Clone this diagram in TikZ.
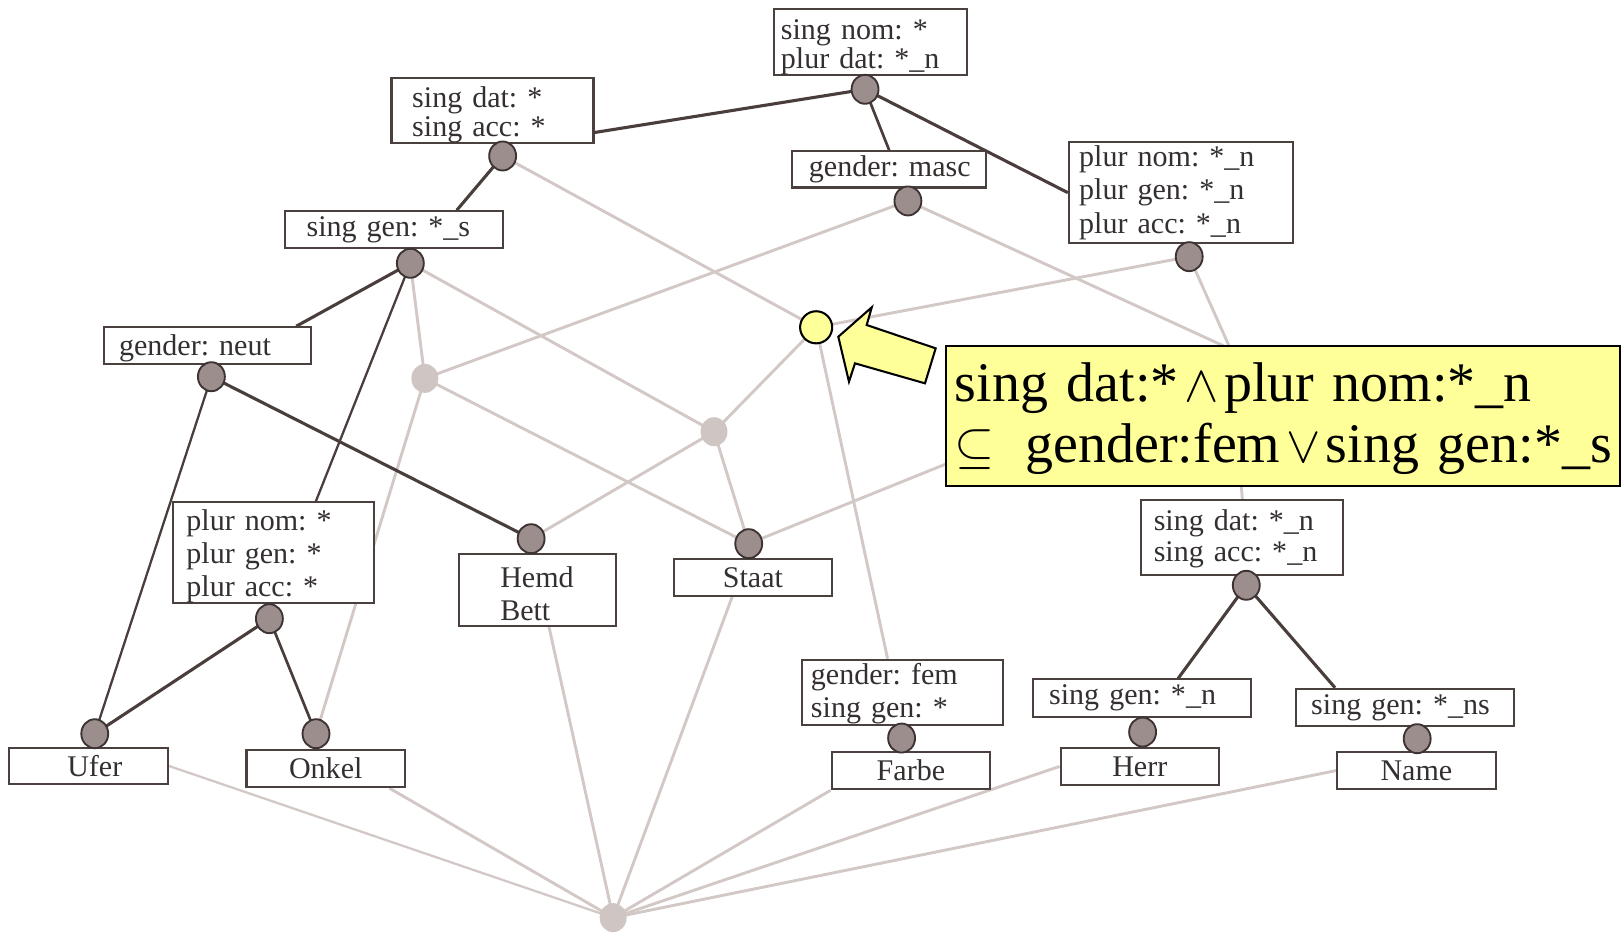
\documentclass[tikz,border=0pt]{standalone}
\usepackage{fontspec}
\setmainfont{Liberation Serif}
\usetikzlibrary{calc,backgrounds,shapes.geometric}

\definecolor{edgedark}{HTML}{4A3E3C}
\definecolor{edgelight}{HTML}{D2C8C6}
\definecolor{boxline}{HTML}{4A403E}
\definecolor{txt}{HTML}{353030}
\definecolor{portfill}{HTML}{9B8E8C}
\definecolor{portline}{HTML}{3D3333}
\definecolor{meetfill}{HTML}{CFC5C3}
\definecolor{hl}{HTML}{FFFF99}

% invisible strut that raises the first line of a box
\newcommand{\topstrut}[1]{\rule{0pt}{#1}}

\begin{document}
\frenchspacing
\begin{tikzpicture}[x=0.5pt,y=-0.5pt,
  box/.style={draw=boxline, line width=1pt, fill=white, text=txt,
    font=\fontsize{14.5}{15}\selectfont, inner ysep=0pt},
  lbox/.style={box, align=left},
  cbox/.style={box, align=center, minimum width=76.5pt, minimum height=17.5pt, inner xsep=0pt},
  port/.style={ellipse, draw=portline, line width=0.9pt, fill=portfill,
    minimum width=13pt, minimum height=14pt, inner sep=0pt},
  meet/.style={ellipse, fill=meetfill, minimum width=13pt, minimum height=14pt, inner sep=0pt},
  strong/.style={draw=edgedark, line width=1.5pt},
  thinstrong/.style={draw=edgedark, line width=1.1pt},
  weak/.style={draw=edgelight, line width=1.4pt},
]
\useasboundingbox (0,0) rectangle (1568,902);

% ---------- attribute boxes ----------
\node[lbox, text width=86.5pt, inner xsep=3.5pt, minimum height=31.5pt,
      font=\fontsize{14.5}{14}\selectfont] (b1) at (840.5,40.5) {\topstrut{14.5pt}sing nom: *\\plur dat: *\_n};
\node[lbox, text width=77.5pt, inner xsep=10pt, minimum height=31.5pt,
      font=\fontsize{14.5}{14}\selectfont] (b2) at (475.5,106.5) {\topstrut{14.5pt}sing dat: *\\sing acc: *};
\node[lbox, text width=77.5pt, inner xsep=8pt, minimum height=17.5pt] (bmasc) at (858.5,163.5) {\mbox{gender: masc}};
\node[lbox, text width=98pt, inner xsep=5pt, minimum height=49pt,
      font=\fontsize{14.5}{16}\selectfont] (b4) at (1140,186) {plur nom: *\_n\\plur gen: *\_n\\plur acc: *\_n};
\node[lbox, text width=84.5pt, inner xsep=10.5pt, minimum height=17.5pt] (bsgs) at (380.5,221.5) {\mbox{sing gen: *\_s}};
\node[lbox, text width=85pt, inner xsep=7.5pt, minimum height=17.5pt] (bneut) at (200,333.5) {\mbox{\topstrut{13pt}gender: neut}};
\node[lbox, text width=84pt, inner xsep=6.5pt, minimum height=48.5pt,
      font=\fontsize{14.5}{16}\selectfont] (b7) at (264,533.5) {\topstrut{13.5pt}plur nom: *\\plur gen: *\\plur acc: *};
\node[lbox, text width=36pt, inner xsep=20pt, minimum height=34.5pt,
      font=\fontsize{14.5}{16}\selectfont] (bhemd) at (519,569.5) {\topstrut{13.5pt}Hemd\\Bett};
\node[cbox, minimum width=76pt] (bstaat) at (727,557.5) {Staat};
\node[lbox, text width=88pt, inner xsep=4.5pt, minimum height=31.5pt,
      font=\fontsize{14.5}{16}\selectfont] (bfem) at (871,668.5) {\topstrut{11.5pt}gender: fem\\sing gen: *};
\node[lbox, text width=85.5pt, inner xsep=6pt, minimum height=36pt,
      font=\fontsize{14.5}{15}\selectfont] (b11) at (1199.5,519) {\topstrut{11.5pt}sing dat: *\_n\\sing acc: *\_n};
\node[lbox, text width=89.5pt, inner xsep=8pt, minimum height=18pt] (bsgn) at (1102.5,674) {\mbox{sing gen: *\_n}};
\node[lbox, text width=90.5pt, inner xsep=7.5pt, minimum height=18pt] (bsgns) at (1356.5,683) {\mbox{sing gen: *\_ns}};

% ---------- word boxes ----------
\node[cbox] (bufer) at (85.5,739.5) {\hspace{6pt}Ufer};
\node[cbox, minimum height=18pt] (bonkel) at (314.5,742) {Onkel};
\node[cbox, minimum height=18pt] (bfarbe) at (879.5,744) {Farbe};
\node[cbox, minimum height=18pt] (bherr) at (1100.5,740) {Herr};
\node[cbox, minimum height=18pt] (bname) at (1367.5,744) {Name};

% ---------- concept ports ----------
\node[port] (d1) at (835.2,86.2) {};
\node[port] (d2) at (485.3,150.6) {};
\node[port] (d3) at (876.6,194) {};
\node[port] (d4) at (1148.2,247.8) {};
\node[port] (d5) at (396.2,254.2) {};
\node[port] (d6) at (204.1,363.7) {};
\node[port] (d7) at (260.1,597.3) {};
\node[port] (d8) at (512.8,520.1) {};
\node[port] (d9) at (722.9,524.9) {};
\node[port] (d10) at (870.5,712.6) {};
\node[port] (d11) at (1203.3,565.1) {};
\node[port] (d12) at (1103.2,706.8) {};
\node[port] (d13) at (1368.3,713.2) {};
\node[port] (d14) at (91.5,708.4) {};
\node[port] (d15) at (305.1,708.4) {};

% unlabelled meet concepts
\node[meet] (m1) at (410.2,365.3) {};
\node[meet] (m2) at (689.4,416.8) {};
\node[meet] (m0) at (592,886) {};
\coordinate (j) at (1188,337);

% highlighted concept
\node[circle, draw=black, line width=1pt, fill=hl, minimum size=15.5pt, inner sep=0pt] (y) at (788,316) {};

% ---------- lattice edges ----------
\begin{pgfonlayer}{background}
  % weak (inherited) links
  \draw[weak] (d2.center) -- (y.center);
  \draw[weak] (d3.center) -- (m1.center);
  \draw[weak] (d3.center) -- (j);
  \draw[weak] (d4.center) -- (j);
  \draw[weak] (d4.center) -- (y.center);
  \draw[weak] (d9.center) -- (j);
  \draw[weak] (j) -- (b11.north);
  \draw[weak] (d5.center) -- (m1.center);
  \draw[weak] (d5.center) -- (m2.center);
  \draw[weak] (y.center) -- (m2.center);
  \draw[weak] (y.center) -- ($(bfem.north)+(-14,0)$);
  \draw[weak] (m2.center) -- (d8.center);
  \draw[weak] (m2.center) -- (d9.center);
  \draw[weak] (m1.center) -- (d9.center);
  \draw[weak] (m1.center) -- (d15.center);
  % links down to the bottom element
  \draw[weak, line width=1.1pt] (m0.center) -- (bufer.east);
  \draw[weak] (m0.center) -- ($(bonkel.south east)+(-16,0)$);
  \draw[weak] (m0.center) -- ($(bhemd.south)+(11,0)$);
  \draw[weak] (m0.center) -- ($(bstaat.south)+(-20,0)$);
  \draw[weak] (m0.center) -- (bfarbe.south west);
  \draw[weak] (m0.center) -- (bherr.west);
  \draw[weak] (m0.center) -- (bname.west);
  % strong (direct) links
  \draw[strong] (d1.center) -- ($(b2.south east)+(-20,-8)$);
  \draw[strong, line width=1.3pt] (d1.center) -- (bmasc.north);
  \draw[strong] (d1.center) -- (b4.west);
  \draw[strong] (d2.center) -- ($(bsgs.north east)+(-46,0)$);
  \draw[strong] (d5.center) -- ($(bneut.north east)+(-15,0)$);
  \draw[thinstrong] (d5.center) -- ($(b7.north)+(41,0)$);
  \draw[thinstrong] (d6.center) -- (d14.center);
  \draw[strong] (d6.center) -- (d8.center);
  \draw[strong] (d7.center) -- (d14.center);
  \draw[strong, line width=1.3pt] (d7.center) -- (d15.center);
  \draw[strong] (d11.center) -- ($(bsgn.north)+(35,0)$);
  \draw[strong] (d11.center) -- ($(bsgns.north west)+(39,0)$);
\end{pgfonlayer}

% ---------- annotation ----------
\draw[fill=hl, line width=1pt, line join=miter]
  (809.4,325.1) -- (841.7,296.7) -- (836.8,313.8) -- (903.4,336.3)
  -- (893.1,370.1) -- (825.5,350.8) -- (819.7,368.5) -- cycle;

\node[draw=black, line width=1pt, fill=hl, text=black, align=left,
      minimum width=325.5pt, minimum height=67.5pt, text width=316.5pt,
      inner xsep=4.5pt, inner ysep=0pt, font=\fontsize{27}{29.5}\selectfont]
  (note) at (1238.5,401.5)
  {\mbox{\topstrut{21.5pt}sing dat:*\hspace{0.1em}$\wedge$\hspace{0.1em}plur nom:*\_n}\\
   \mbox{$\subseteq$\hspace{0.55em}gender:fem\hspace{0.1em}$\vee$\hspace{0.1em}sing gen:*\_s}};

\end{tikzpicture}
\end{document}
